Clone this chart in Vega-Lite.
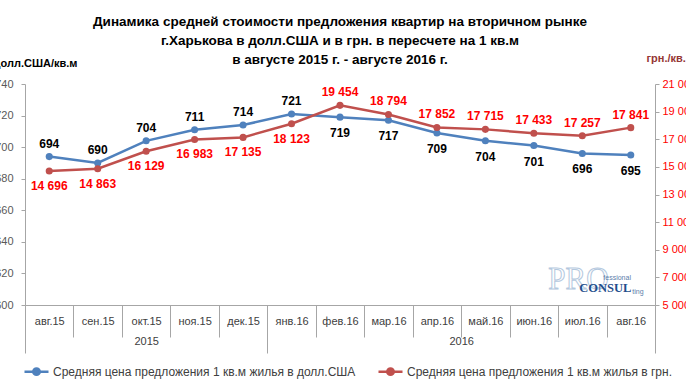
{
  "$schema": "https://vega.github.io/schema/vega-lite/v6.json",
  "width": 630,
  "height": 221,
  "autosize": "none",
  "padding": {"left": 25, "top": 84, "right": 31, "bottom": 81},
  "background": "white",
  "config": {
    "font": "Liberation Sans",
    "view": {"stroke": null},
    "locale": {"number": {"decimal": ",", "thousands": " ", "grouping": [3], "currency": ["", ""]}}
  },
  "title": {
    "text": ["Динамика средней стоимости предложения квартир на вторичном рынке", "г.Харькова  в долл.США и в грн. в пересчете на 1 кв.м", "в августе 2015 г. - августе 2016  г."],
    "fontSize": 13.5,
    "fontWeight": "bold",
    "color": "#000000",
    "anchor": "middle",
    "lineHeight": 19,
    "offset": -14
  },
  "datasets": {
    "d": [
      {"month": "авг.15", "usd": 694, "uah": 14696},
      {"month": "сен.15", "usd": 690, "uah": 14863},
      {"month": "окт.15", "usd": 704, "uah": 16129},
      {"month": "ноя.15", "usd": 711, "uah": 16983},
      {"month": "дек.15", "usd": 714, "uah": 17135},
      {"month": "янв.16", "usd": 721, "uah": 18123},
      {"month": "фев.16", "usd": 719, "uah": 19454},
      {"month": "мар.16", "usd": 717, "uah": 18794},
      {"month": "апр.16", "usd": 709, "uah": 17852},
      {"month": "май.16", "usd": 704, "uah": 17715},
      {"month": "июн.16", "usd": 701, "uah": 17433},
      {"month": "июл.16", "usd": 696, "uah": 17257},
      {"month": "авг.16", "usd": 695, "uah": 17841}
    ]
  },
  "data": {"name": "d"},
  "layer": [
    {
      "encoding": {
        "x": {
          "field": "month", "type": "nominal", "sort": null,
          "scale": {"type": "band", "domain": ["авг.15","сен.15","окт.15","ноя.15","дек.15","янв.16","фев.16","мар.16","апр.16","май.16","июн.16","июл.16","авг.16"], "paddingInner": 0, "paddingOuter": 0},
          "axis": {"orient": "bottom", "title": null, "labelAngle": 0, "tickBand": "extent", "tickSize": 32, "tickColor": "#A6A6A6", "domainColor": "#A6A6A6", "labelPadding": -22, "labelFontSize": 11, "labelColor": "#404040", "grid": false}
        },
        "y": {
          "field": "usd", "type": "quantitative",
          "scale": {"domain": [600, 740], "nice": false, "zero": false},
          "axis": {"orient": "left", "values": [600,620,640,660,680,700,720,740], "grid": false, "tickSize": 4, "labelPadding": 8, "tickColor": "#A6A6A6", "domainColor": "#A6A6A6", "labelFontSize": 11, "labelColor": "#595959", "title": "долл.США/кв.м", "titleAngle": 0, "titleAlign": "left", "titleBaseline": "middle", "titleX": -32, "titleY": -21, "titleFontSize": 11, "titleFontWeight": "bold", "titleColor": "#000000"}
        }
      },
      "layer": [
        {
          "mark": {"type": "line", "strokeWidth": 2.5},
          "encoding": {
            "color": {
              "datum": "Средняя цена предложения 1 кв.м жилья в долл.США", "type": "nominal",
              "scale": {"domain": ["Средняя цена предложения 1 кв.м жилья в долл.США", "Средняя цена предложения 1 кв.м жилья в грн."], "range": ["#4F81BD", "#C0504D"]},
              "legend": {
                "title": null, "orient": "none", "legendX": -2, "legendY": 274, "direction": "horizontal", "padding": 0,
                "symbolType": "M-1,0H-0.3M0.3,0H1M0.27,0A0.27,0.27,0,1,1,-0.27,0A0.27,0.27,0,1,1,0.27,0Z",
                "symbolSize": 576, "symbolStrokeWidth": 2.5, "labelFontSize": 12, "labelColor": "#404040", "labelLimit": 400, "labelOffset": 3, "columnPadding": 17,
                "encode": {"symbols": {"update": {"fill": {"field": "value", "scale": "color"}, "stroke": {"field": "value", "scale": "color"}}}}
              }
            }
          }
        },
        {
          "mark": {"type": "point", "filled": true, "size": 50, "opacity": 1},
          "encoding": {"color": {"datum": "Средняя цена предложения 1 кв.м жилья в долл.США", "type": "nominal"}}
        },
        {
          "transform": [{"filter": {"field": "month", "oneOf": ["авг.15","сен.15","окт.15","ноя.15","дек.15","янв.16"]}}],
          "mark": {"type": "text", "dy": -13, "fontSize": 12, "fontWeight": "bold", "color": "#000000"},
          "encoding": {"text": {"field": "usd", "type": "quantitative"}}
        },
        {
          "transform": [{"filter": {"not": {"field": "month", "oneOf": ["авг.15","сен.15","окт.15","ноя.15","дек.15","янв.16"]}}}],
          "mark": {"type": "text", "dy": 16, "fontSize": 12, "fontWeight": "bold", "color": "#000000"},
          "encoding": {"text": {"field": "usd", "type": "quantitative"}}
        }
      ]
    },
    {
      "encoding": {
        "x": {
          "field": "month", "type": "nominal", "sort": null,
          "scale": {"type": "band", "domain": ["авг.15","сен.15","окт.15","ноя.15","дек.15","янв.16","фев.16","мар.16","апр.16","май.16","июн.16","июл.16","авг.16"], "paddingInner": 0, "paddingOuter": 0},
          "axis": null
        },
        "y": {
          "field": "uah", "type": "quantitative",
          "scale": {"domain": [5000, 21000], "nice": false, "zero": false},
          "axis": {"orient": "right", "values": [5000,7000,9000,11000,13000,15000,17000,19000,21000], "format": ",.0f", "grid": false, "tickSize": 4, "labelPadding": 3, "tickColor": "#A6A6A6", "domainColor": "#A6A6A6", "labelFontSize": 11, "labelColor": "#FF0000", "title": "грн./кв.м", "titleAngle": 0, "titleAlign": "left", "titleBaseline": "middle", "titleX": -9, "titleY": -26, "titleFontSize": 11, "titleFontWeight": "bold", "titleColor": "#953735"}
        }
      },
      "layer": [
        {
          "transform": [{"filter": {"field": "month", "equal": "авг.16"}}],
          "mark": {"type": "text", "text": "PRO", "align": "left", "baseline": "middle", "dx": -34, "font": "Liberation Serif", "fontSize": 31, "fill": "#FFFFFF", "stroke": "#B4C8DE", "strokeWidth": 1},
          "encoding": {"x": {"datum": "июл.16"}, "y": {"datum": 6810}}
        },
        {
          "transform": [{"filter": {"field": "month", "equal": "авг.16"}}],
          "mark": {"type": "text", "text": "fessional", "align": "left", "baseline": "middle", "dx": 21, "fontSize": 7, "color": "#5B7DAA"},
          "encoding": {"x": {"datum": "июл.16"}, "y": {"datum": 6955}}
        },
        {
          "transform": [{"filter": {"field": "month", "equal": "авг.16"}}],
          "mark": {"type": "text", "text": "CONSUL", "align": "left", "baseline": "middle", "dx": -3, "font": "Liberation Serif", "fontSize": 12.5, "fontWeight": "bold", "color": "#1F4E8C"},
          "encoding": {"x": {"datum": "июл.16"}, "y": {"datum": 6231}}
        },
        {
          "transform": [{"filter": {"field": "month", "equal": "авг.16"}}],
          "mark": {"type": "text", "text": "ting", "align": "left", "baseline": "middle", "dx": 50, "fontSize": 7, "color": "#5B7DAA"},
          "encoding": {"x": {"datum": "июл.16"}, "y": {"datum": 5941}}
        },
        {
          "mark": {"type": "line", "strokeWidth": 2.5},
          "encoding": {"color": {"datum": "Средняя цена предложения 1 кв.м жилья в грн.", "type": "nominal"}}
        },
        {
          "mark": {"type": "point", "filled": true, "size": 50, "opacity": 1},
          "encoding": {"color": {"datum": "Средняя цена предложения 1 кв.м жилья в грн.", "type": "nominal"}}
        },
        {
          "transform": [{"filter": {"field": "month", "oneOf": ["авг.15","сен.15","окт.15","ноя.15","дек.15","янв.16"]}}],
          "mark": {"type": "text", "dy": 15, "fontSize": 12, "fontWeight": "bold", "color": "#FF0000"},
          "encoding": {"text": {"field": "uah", "type": "quantitative", "format": ","}}
        },
        {
          "transform": [{"filter": {"not": {"field": "month", "oneOf": ["авг.15","сен.15","окт.15","ноя.15","дек.15","янв.16"]}}}],
          "mark": {"type": "text", "dy": -13, "fontSize": 12, "fontWeight": "bold", "color": "#FF0000"},
          "encoding": {"text": {"field": "uah", "type": "quantitative", "format": ","}}
        }
      ]
    },
    {
      "data": {"values": [{"p": 0}, {"p": 13}]},
      "mark": {"type": "rule", "opacity": 0},
      "encoding": {
        "x": {
          "field": "p", "type": "quantitative",
          "scale": {"domain": [0, 13], "nice": false, "zero": false},
          "axis": {"orient": "bottom", "values": [0, 2.5, 5, 9, 13], "tickSize": 48, "tickColor": "#A6A6A6", "tickOpacity": {"condition": {"test": "datum.value == 2.5 || datum.value == 9", "value": 0}, "value": 1}, "labelExpr": "datum.value == 2.5 ? '2015' : datum.value == 9 ? '2016' : ''", "labelPadding": -18, "domain": false, "grid": false, "title": null, "labelFontSize": 11, "labelColor": "#404040", "labelFlush": false, "labelOverlap": false}
        }
      }
    }
  ],
  "resolve": {"scale": {"x": "independent", "y": "independent"}}
}
